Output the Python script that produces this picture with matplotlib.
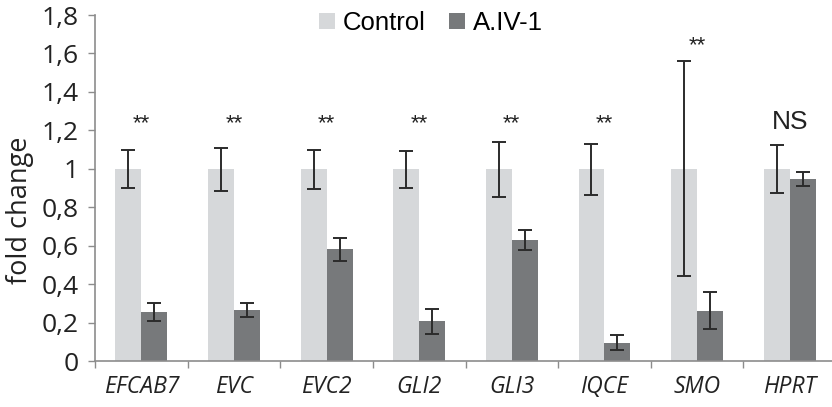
import matplotlib
matplotlib.use("Agg")
import matplotlib.pyplot as plt
import numpy as np

genes = ["EFCAB7", "EVC", "EVC2", "GLI2", "GLI3", "IQCE", "SMO", "HPRT"]
control = [1, 1, 1, 1, 1, 1, 1, 1]
control_err_lo = [0.10, 0.115, 0.105, 0.10, 0.145, 0.135, 0.56, 0.125]
control_err_hi = [0.10, 0.11, 0.10, 0.095, 0.14, 0.13, 0.56, 0.125]
treated = [0.255, 0.265, 0.581, 0.208, 0.63, 0.095, 0.262, 0.947]
treated_err = [0.048, 0.038, 0.06, 0.065, 0.05, 0.04, 0.095, 0.035]
sig_labels = ["**", "**", "**", "**", "**", "**", "**", "NS"]
sig_y = [1.245, 1.245, 1.245, 1.245, 1.245, 1.245, 1.65, 1.245]
yticks = [0, 0.2, 0.4, 0.6, 0.8, 1.0, 1.2, 1.4, 1.6, 1.8]
ytick_labels = ["0", "0,2", "0,4", "0,6", "0,8", "1", "1,2", "1,4", "1,6", "1,8"]

c_ctrl = "#d6d8da"
c_trt = "#77797b"
axis_gray = "#8c8c8c"

fig = plt.figure(figsize=(8.32, 4.07), dpi=100)
ax = fig.add_axes([0.1142, 0.113, 0.8906, 0.850])

x = np.arange(len(genes)) + 0.5
w = 0.28
ekw = dict(ecolor="#2b2b2b", elinewidth=1.4, capsize=5, capthick=1.4)
ax.bar(x - w / 2, control, w, color=c_ctrl, label="Control",
       yerr=[control_err_lo, control_err_hi], error_kw=ekw, zorder=2)
ax.bar(x + w / 2, treated, w, color=c_trt, label="A.IV-1",
       yerr=treated_err, error_kw=ekw, zorder=2)

for xi, lab, yy in zip(x, sig_labels, sig_y):
    if lab == "NS":
        ax.text(xi, yy, lab, ha="center", va="center", fontsize=19,
                family="Liberation Sans", color="#222222")
    else:
        ax.text(xi, yy - 0.01, lab, ha="center", va="center", fontsize=16,
                family="Liberation Sans", color="#222222")

ax.set_xlim(0, len(genes))
ax.set_ylim(0, 1.8)
ax.set_yticks(yticks)
ax.set_yticklabels(ytick_labels, family="Open Sans", fontsize=19, color="#222222")
ax.set_xticks(np.arange(len(genes)))
ax.set_xticklabels([])
ax.set_xticks(x, minor=True)
ax.set_xticklabels(genes, minor=True, family="Open Sans", style="italic",
                   fontsize=16.5, color="#222222")
ax.tick_params(axis="x", which="major", length=5, width=1, color=axis_gray, direction="out")
ax.tick_params(axis="x", which="minor", length=0, pad=10)
ax.tick_params(axis="y", length=5, width=1, color=axis_gray, direction="out", pad=7)
ax.set_ylabel("fold change", family="Open Sans", fontsize=19.5, color="#222222")
ax.yaxis.set_label_coords(-0.083, 0.436)

for s in ["top", "right"]:
    ax.spines[s].set_visible(False)
for s in ["left", "bottom"]:
    ax.spines[s].set_color(axis_gray)
    ax.spines[s].set_linewidth(1.2)

leg = fig.legend(loc="upper center", bbox_to_anchor=(0.518, 1.03), ncol=2, frameon=False,
                 prop={"family": "Liberation Sans", "size": 18.5},
                 handlelength=0.62, handleheight=0.62, handletextpad=0.3, columnspacing=0.9)

fig.savefig("out.png", dpi=100)
